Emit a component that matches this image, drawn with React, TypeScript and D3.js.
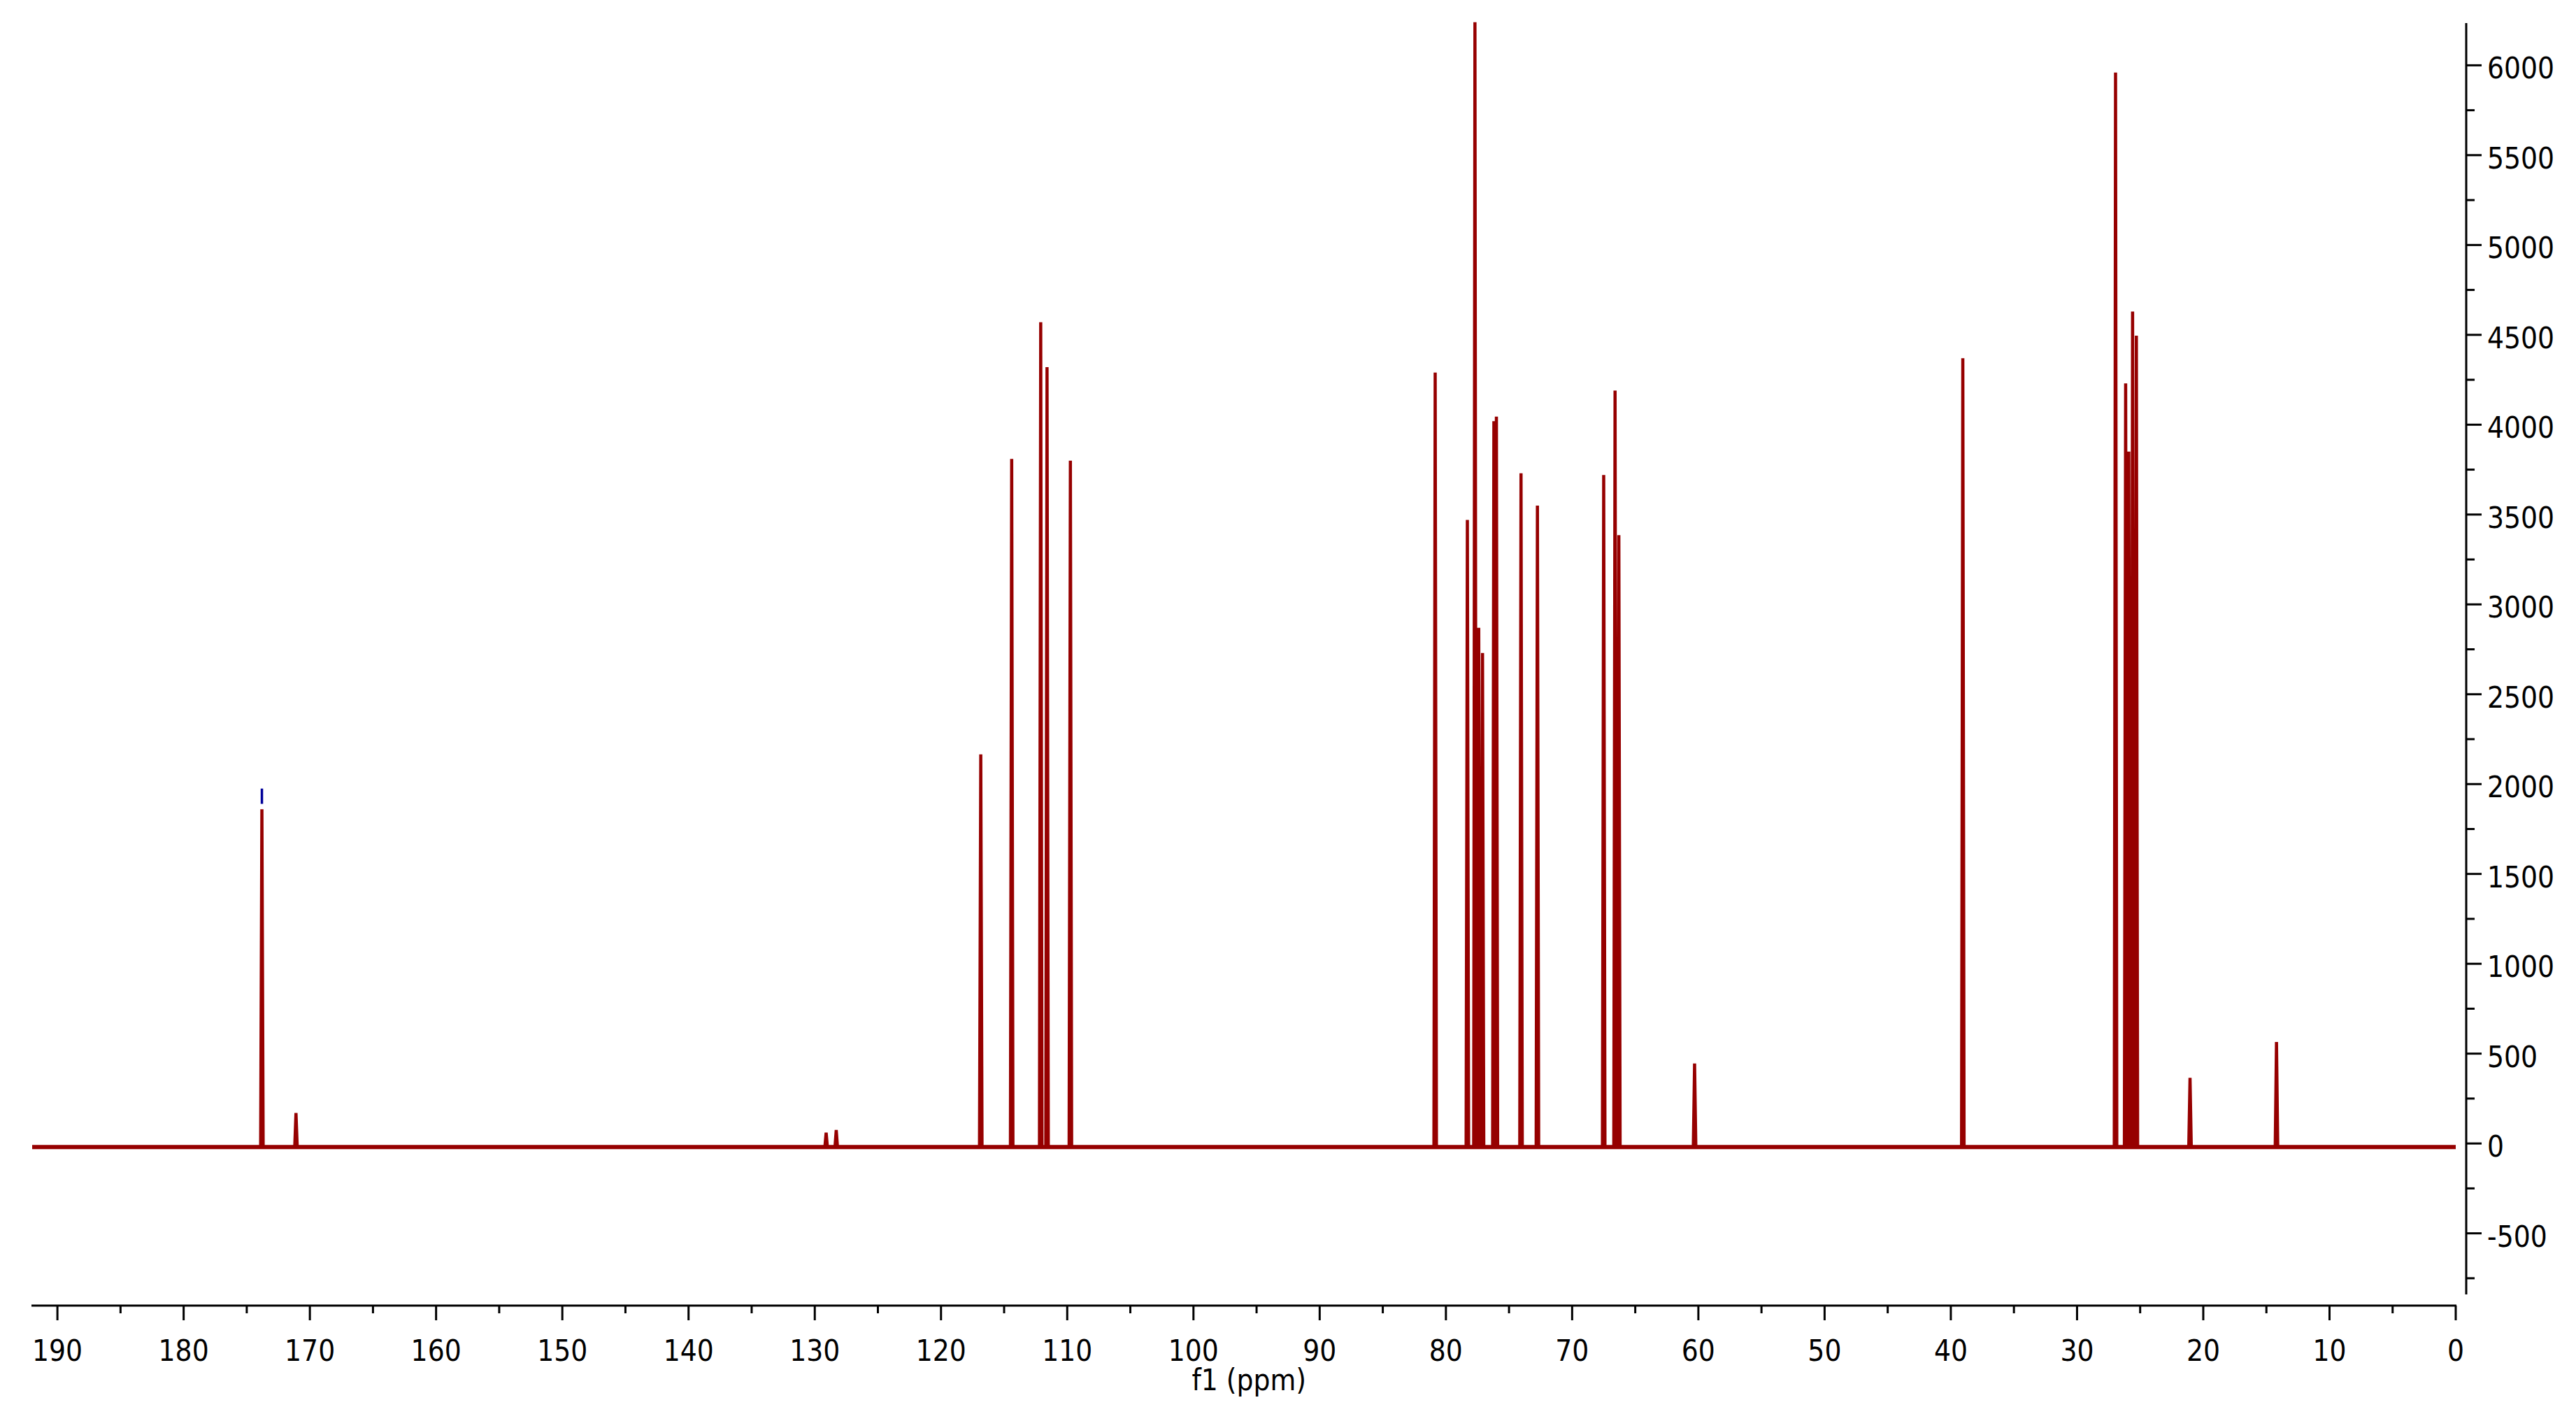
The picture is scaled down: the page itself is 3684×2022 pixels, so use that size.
import React from 'react';
import * as d3 from 'd3';

// 13C spectrum: peak shift (ppm) and peak height
const peakShift = [
  173.8, 171.1, 129.1, 128.3, 116.85, 114.4, 112.1, 111.6, 109.75,
  80.85, 78.3, 77.7, 77.4, 77.1, 76.2, 76.0, 74.05, 72.75,
  67.5, 66.6, 66.3, 60.3, 39.05,
  26.95, 26.15, 25.9, 25.6, 25.3, 21.05, 14.2
];
const peakHeight = [
  1860, 170, 60, 75, 2165, 3810, 4570, 4320, 3800,
  4290, 3470, 6240, 2870, 2730, 4020, 4045, 3730, 3550,
  3720, 4190, 3385, 445, 4370,
  5960, 4230, 3850, 4630, 4495, 365, 565
];
const baselineLevel = -20;

// peak-pick marker (blue) above the carbonyl
const markerShift = 173.8;
const markerSpan = [1890, 1975];

const xTickLabels = [190, 180, 170, 160, 150, 140, 130, 120, 110, 100, 90, 80, 70, 60, 50, 40, 30, 20, 10, 0];
const xMinorTicks = [185, 175, 165, 155, 145, 135, 125, 115, 105, 95, 85, 75, 65, 55, 45, 35, 25, 15, 5];
const yTickLabels = [6000, 5500, 5000, 4500, 4000, 3500, 3000, 2500, 2000, 1500, 1000, 500, 0, -500];
const yMinorTicks = [5750, 5250, 4750, 4250, 3750, 3250, 2750, 2250, 1750, 1250, 750, 250, -250, -750];
const axisTitle = 'f1 (ppm)';

const W = 3684;
const H = 2022;
const lineColor = '#960000';
const font = '"DejaVu Sans Condensed", "DejaVu Sans", sans-serif';

export default function App() {
  const x = d3.scaleLinear().domain([192, 0]).range([46, 3512]);
  const y = d3.scaleLinear().domain([-840, 6235]).range([1851, 33]);
  const axisY = 1867;
  const axisX = 3527;

  // each peak is a narrow spike on the baseline
  const halfWidth = 0.1;
  const order = d3.range(peakShift.length).sort((a, b) => peakShift[b] - peakShift[a]);
  const pts: [number, number][] = [[192, baselineLevel]];
  order.forEach(i => {
    pts.push([peakShift[i] + halfWidth, baselineLevel]);
    pts.push([peakShift[i], peakHeight[i]]);
    pts.push([peakShift[i] - halfWidth, baselineLevel]);
  });
  pts.push([0, baselineLevel]);

  const line = d3.line<[number, number]>()
    .x(d => x(d[0]))
    .y(d => y(d[1]));

  return (
    <svg width={W} height={H} style={{ position: 'absolute', left: 0, top: 0, background: '#fff' }}>
      {/* baseline noise band */}
      <line x1={x(192)} x2={x(0)} y1={y(baselineLevel)} y2={y(baselineLevel)}
        stroke={lineColor} strokeWidth={6} />
      <path d={line(pts) || ''} fill="none" stroke={lineColor} strokeWidth={4.5} strokeLinejoin="miter" />
      <line x1={x(markerShift)} x2={x(markerShift)} y1={y(markerSpan[0])} y2={y(markerSpan[1])}
        stroke="#000099" strokeWidth={3.5} />

      {/* x axis */}
      <g stroke="#000" strokeWidth={3}>
        <line x1={45} x2={3513} y1={axisY} y2={axisY} />
        {xTickLabels.map(t => (
          <line key={'xt' + t} x1={x(t)} x2={x(t)} y1={axisY} y2={axisY + 21} />
        ))}
        {xMinorTicks.map(t => (
          <line key={'xm' + t} x1={x(t)} x2={x(t)} y1={axisY} y2={axisY + 11} />
        ))}
      </g>
      <g fontFamily={font} fontSize={42} fill="#000" textAnchor="middle" style={{ fontStretch: 'condensed' }}>
        {xTickLabels.map(t => (
          <text key={'xl' + t} x={x(t)} y={1946}>{t}</text>
        ))}
        <text x={x(95.6)} y={1988}>{axisTitle}</text>
      </g>

      {/* y axis on the right */}
      <g stroke="#000" strokeWidth={3}>
        <line x1={axisX} x2={axisX} y1={33} y2={1851} />
        {yTickLabels.map(t => (
          <line key={'yt' + t} x1={axisX} x2={axisX + 22} y1={y(t)} y2={y(t)} />
        ))}
        {yMinorTicks.map(t => (
          <line key={'ym' + t} x1={axisX} x2={axisX + 12} y1={y(t)} y2={y(t)} />
        ))}
      </g>
      <g fontFamily={font} fontSize={42} fill="#000" textAnchor="start" style={{ fontStretch: 'condensed' }}>
        {yTickLabels.map(t => (
          <text key={'yl' + t} x={3557} y={y(t) + 19}>{t}</text>
        ))}
      </g>
    </svg>
  );
}
